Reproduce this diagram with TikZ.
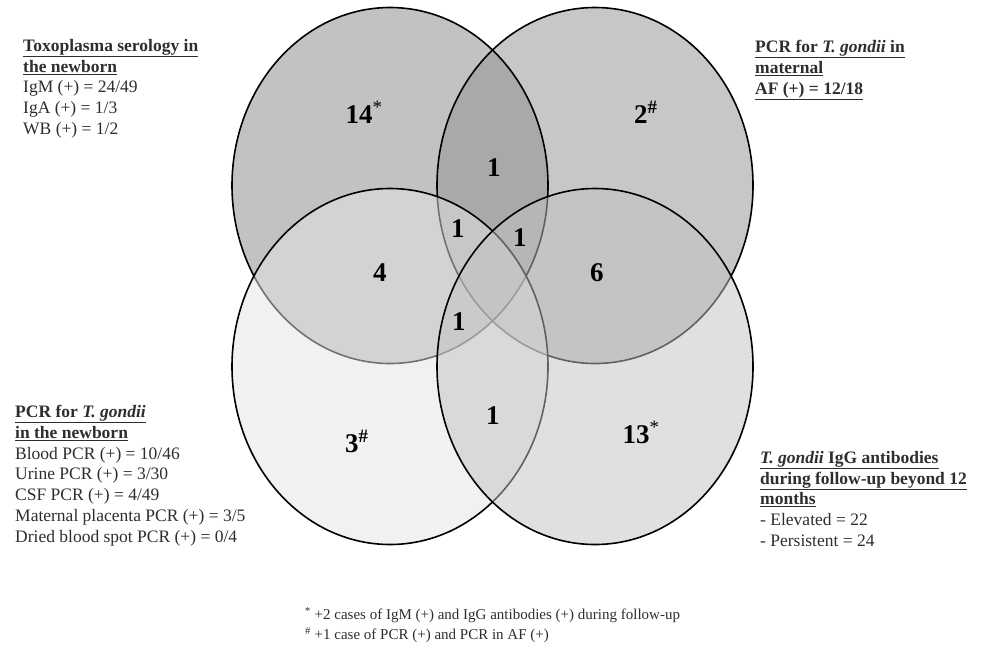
\documentclass[tikz,border=0pt]{standalone}
\usepackage{fontspec}
\setmainfont{Liberation Serif}
\definecolor{ctl}{gray}{0.53}
\definecolor{ctr}{gray}{0.57}
\definecolor{cbl}{gray}{0.90}
\definecolor{cbr}{gray}{0.765}
\definecolor{txt}{gray}{0.18}
\begin{document}
\begin{tikzpicture}[x=1pt,y=-1pt,
  outl/.style={draw=black,line width=1.6pt},
  shade50/.style={fill opacity=0.5},
  label/.style={anchor=north west,inner sep=0pt,align=left,text=txt,
    font=\fontsize{17.5}{20.8}\selectfont},
  foot/.style={anchor=north west,inner sep=0pt,align=left,text=txt,
    font=\fontsize{15}{20}\selectfont},
  num/.style={anchor=base west,inner sep=0pt,text=black,
    font=\fontsize{27}{27}\selectfont\bfseries}]
\useasboundingbox (0,0) rectangle (982,649);
\fill[white] (0,0) rectangle (982,649);
% circles
\fill[ctl,shade50] (390,185.5) ellipse[x radius=158pt,y radius=178pt];
\fill[ctr,shade50] (595,185.5) ellipse[x radius=158pt,y radius=178pt];
\draw[outl] (390,185.5) ellipse[x radius=158pt,y radius=178pt];
\draw[outl] (595,185.5) ellipse[x radius=158pt,y radius=178pt];
\filldraw[outl,fill=cbl,shade50] (390,366.5) ellipse[x radius=158pt,y radius=178pt];
\filldraw[outl,fill=cbr,shade50] (595,366.5) ellipse[x radius=158pt,y radius=178pt];
% numbers
\node[num] (n14) at (345.5,123) {14\textsuperscript{\normalfont *}};
\node[num] (n2) at (634,123) {2\textsuperscript{\#}};
\node[num] (nab) at (487,176) {1};
\node[num] (nabc) at (451,237) {1};
\node[num] (nabd) at (513,246) {1};
\node[num] (nacd) at (452,330) {1};
\node[num] (ncd) at (486,424) {1};
\node[num] (nac) at (373,281) {4};
\node[num] (nbd) at (590,281) {6};
\node[num] (n3) at (345,452) {3\textsuperscript{\#}};
\node[num] (n13) at (622.5,443) {13\textsuperscript{\normalfont *}};
% labels
\node[label] (serology) at (23,39) {\underline{\textbf{Toxoplasma serology in}}\\
  \underline{\textbf{the newborn}}\\
  IgM (+) = 24/49\\
  IgA (+) = 1/3\\
  WB (+) = 1/2};
\node[label] (pcraf) at (755,40) {\underline{\textbf{PCR for \textit{T. gondii} in}}\\
  \underline{\textbf{maternal}}\\
  \underline{\textbf{AF (+) = 12/18}}};
\node[label] (pcrnb) at (15,405) {\underline{\textbf{PCR for \textit{T. gondii}}}\\
  \underline{\textbf{in the newborn}}\\
  Blood PCR (+) = 10/46\\
  Urine PCR (+) = 3/30\\
  CSF PCR (+) = 4/49\\
  Maternal placenta PCR (+) = 3/5\\
  Dried blood spot PCR (+) = 0/4};
\node[label] (igg) at (760,451) {\underline{\textbf{\textit{T. gondii} IgG antibodies}}\\
  \underline{\textbf{during follow-up beyond 12}}\\
  \underline{\textbf{months}}\\
  - Elevated = 22\\
  - Persistent = 24};
\node[foot] (notes) at (305,607.5) {\textsuperscript{*} +2 cases of IgM (+) and IgG antibodies (+) during follow-up\\
  \textsuperscript{\#} +1 case of PCR (+) and PCR in AF (+)};
\end{tikzpicture}
\end{document}
